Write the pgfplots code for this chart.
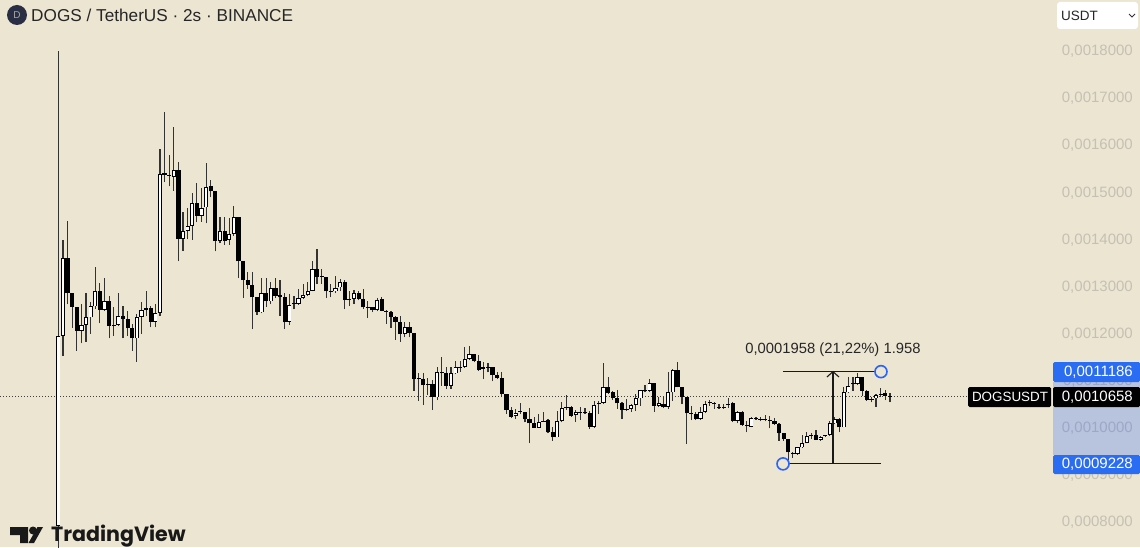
\documentclass[border=0pt]{standalone}
\usepackage{fontspec}
\usepackage{pgfplots}
\usepackage{pgfplotstable}
\pgfplotsset{compat=1.18}
\setmainfont{Liberation Sans}
\newfontfamily\pop{Poppins}
\definecolor{bg}{HTML}{EBE5D2}
\definecolor{tvblue}{HTML}{2962FF}
\definecolor{boxblue}{HTML}{2A6CF2}
\definecolor{ticktxt}{HTML}{C4C1B4}
\definecolor{navy}{HTML}{2A2E45}
\pgfplotstableread{
n o h l c
1 0.0007915 0.0018000 0.0007000 0.0011949
2 0.0011949 0.0013980 0.0011524 0.0013598
3 0.0013598 0.0014390 0.0012621 0.0012855
4 0.0012855 0.0012855 0.0012112 0.0012565
5 0.0012565 0.0012565 0.0011630 0.0012055
6 0.0012055 0.0012621 0.0011786 0.0012182
7 0.0012182 0.0012855 0.0011821 0.0012338
8 0.0012338 0.0012657 0.0011984 0.0012572
9 0.0012572 0.0013414 0.0012515 0.0012904
10 0.0012904 0.0013067 0.0012218 0.0012501
11 0.0012501 0.0013173 0.0012480 0.0012678
12 0.0012692 0.0012798 0.0011892 0.0012154
13 0.0012182 0.0012550 0.0011949 0.0012154
14 0.0012182 0.0012855 0.0012154 0.0012359
15 0.0012359 0.0012579 0.0011892 0.0012303
16 0.0012303 0.0012480 0.0011949 0.0012105
17 0.0012105 0.0012197 0.0011630 0.0011892
18 0.0011892 0.0012409 0.0011397 0.0012352
19 0.0012352 0.0012657 0.0011984 0.0012494
20 0.0012529 0.0012904 0.0012373 0.0012494
21 0.0012529 0.0012586 0.0012126 0.0012246
22 0.0012246 0.0012621 0.0012126 0.0012430
23 0.0012430 0.0015912 0.0012373 0.0015381
24 0.0015395 0.0016690 0.0015204 0.0015353
25 0.0015360 0.0015792 0.0015119 0.0015346
26 0.0015325 0.0016386 0.0015027 0.0015466
27 0.0015466 0.0015629 0.0013527 0.0014001
28 0.0014001 0.0014582 0.0013753 0.0014178
29 0.0014178 0.0014659 0.0014001 0.0014277
30 0.0014277 0.0014971 0.0013987 0.0014758
31 0.0014758 0.0015183 0.0014355 0.0014497
32 0.0014497 0.0015084 0.0014369 0.0014659
33 0.0014673 0.0015622 0.0014334 0.0015112
34 0.0015126 0.0015254 0.0014886 0.0015013
35 0.0015013 0.0015013 0.0013739 0.0013966
36 0.0013966 0.0014475 0.0013909 0.0014178
37 0.0014178 0.0014475 0.0013881 0.0013966
38 0.0013980 0.0014447 0.0013881 0.0014107
39 0.0014107 0.0014709 0.0014072 0.0014461
40 0.0014461 0.0014461 0.0013173 0.0013527
41 0.0013527 0.0013527 0.0012749 0.0013131
42 0.0013131 0.0013293 0.0012940 0.0013032
43 0.0013032 0.0013293 0.0012090 0.0012763
44 0.0012763 0.0012777 0.0012395 0.0012444
45 0.0012444 0.0013173 0.0012423 0.0012848
46 0.0012848 0.0013173 0.0012565 0.0012678
47 0.0012678 0.0013081 0.0012621 0.0012961
48 0.0012961 0.0013173 0.0012749 0.0012798
49 0.0012812 0.0013131 0.0012374 0.0012763
50 0.0012763 0.0012848 0.0012091 0.0012232
51 0.0012246 0.0012834 0.0012183 0.0012600
52 0.0012621 0.0012798 0.0012515 0.0012643
53 0.0012621 0.0012940 0.0012607 0.0012749
54 0.0012749 0.0013046 0.0012728 0.0012820
55 0.0012820 0.0013081 0.0012798 0.0012904
56 0.0012904 0.0013527 0.0012890 0.0013364
57 0.0013364 0.0013789 0.0013046 0.0013202
58 0.0013216 0.0013364 0.0013046 0.0013195
59 0.0013195 0.0013195 0.0012749 0.0012890
60 0.0012904 0.0013046 0.0012763 0.0012890
61 0.0012890 0.0013223 0.0012848 0.0012961
62 0.0012975 0.0013152 0.0012904 0.0013081
63 0.0013096 0.0013131 0.0012515 0.0012706
64 0.0012728 0.0012904 0.0012586 0.0012706
65 0.0012728 0.0012919 0.0012621 0.0012848
66 0.0012855 0.0012904 0.0012700 0.0012728
67 0.0012728 0.0012940 0.0012515 0.0012551
68 0.0012551 0.0012692 0.0012324 0.0012536
69 0.0012551 0.0012551 0.0012444 0.0012494
70 0.0012494 0.0012749 0.0012466 0.0012713
71 0.0012728 0.0012777 0.0012466 0.0012480
72 0.0012480 0.0012494 0.0012197 0.0012459
73 0.0012459 0.0012480 0.0012112 0.0012352
74 0.0012352 0.0012374 0.0011864 0.0012246
75 0.0012246 0.0012374 0.0011822 0.0011984
76 0.0011984 0.0012246 0.0011914 0.0012126
77 0.0012126 0.0012246 0.0011914 0.0011999
78 0.0011999 0.0011999 0.0010781 0.0011029
79 0.0011043 0.0011149 0.0010569 0.0011029
80 0.0011029 0.0011149 0.0010484 0.0010902
81 0.0010923 0.0011050 0.0010696 0.0010909
82 0.0010923 0.0011008 0.0010371 0.0010640
83 0.0010640 0.0011277 0.0010583 0.0011171
84 0.0011185 0.0011489 0.0010888 0.0011149
85 0.0011149 0.0011277 0.0010817 0.0010888
86 0.0010888 0.0011291 0.0010817 0.0011149
87 0.0011149 0.0011404 0.0011135 0.0011277
88 0.0011277 0.0011404 0.0011185 0.0011291
89 0.0011291 0.0011701 0.0011263 0.0011454
90 0.0011454 0.0011730 0.0011432 0.0011560
91 0.0011560 0.0011560 0.0011383 0.0011404
92 0.0011404 0.0011546 0.0011206 0.0011220
93 0.0011277 0.0011383 0.0011029 0.0011248
94 0.0011291 0.0011369 0.0011171 0.0011277
95 0.0011277 0.0011291 0.0010980 0.0011114
96 0.0011114 0.0011185 0.0011029 0.0011050
97 0.0011050 0.0011171 0.0010640 0.0010711
98 0.0010711 0.0010711 0.0010286 0.0010371
99 0.0010371 0.0010442 0.0010194 0.0010230
100 0.0010237 0.0010393 0.0010180 0.0010315
101 0.0010343 0.0010513 0.0010286 0.0010329
102 0.0010336 0.0010336 0.0010109 0.0010173
103 0.0010173 0.0010414 0.0009671 0.0010088
104 0.0010088 0.0010216 0.0009989 0.0009996
105 0.0009996 0.0010286 0.0009989 0.0010117
106 0.0010131 0.0010322 0.0010117 0.0010145
107 0.0010159 0.0010180 0.0009876 0.0009897
108 0.0009897 0.0010017 0.0009720 0.0009791
109 0.0009791 0.0010343 0.0009791 0.0010131
110 0.0010131 0.0010534 0.0010109 0.0010414
111 0.0010428 0.0010690 0.0010371 0.0010442
112 0.0010428 0.0010463 0.0010230 0.0010251
113 0.0010265 0.0010371 0.0010124 0.0010322
114 0.0010322 0.0010442 0.0010166 0.0010308
115 0.0010322 0.0010414 0.0010286 0.0010308
116 0.0010315 0.0010343 0.0009968 0.0010017
117 0.0010017 0.0010569 0.0009989 0.0010477
118 0.0010527 0.0010569 0.0010286 0.0010513
119 0.0010520 0.0011369 0.0010499 0.0010853
120 0.0010867 0.0011065 0.0010711 0.0010732
121 0.0010746 0.0010782 0.0010591 0.0010619
122 0.0010619 0.0010796 0.0010393 0.0010513
123 0.0010513 0.0010534 0.0010180 0.0010371
124 0.0010393 0.0010605 0.0010357 0.0010371
125 0.0010393 0.0010499 0.0010336 0.0010485
126 0.0010485 0.0010711 0.0010357 0.0010619
127 0.0010619 0.0010796 0.0010463 0.0010796
128 0.0010803 0.0010909 0.0010746 0.0010768
129 0.0010782 0.0011029 0.0010746 0.0010937
130 0.0010937 0.0010952 0.0010336 0.0010463
131 0.0010463 0.0010640 0.0010442 0.0010513
132 0.0010499 0.0010640 0.0010414 0.0010428
133 0.0010442 0.0011171 0.0010393 0.0010746
134 0.0010746 0.0011242 0.0010569 0.0011221
135 0.0011221 0.0011383 0.0010853 0.0010853
136 0.0010853 0.0010867 0.0010499 0.0010640
137 0.0010640 0.0010640 0.0009649 0.0010301
138 0.0010301 0.0010463 0.0010159 0.0010286
139 0.0010286 0.0010322 0.0010159 0.0010180
140 0.0010180 0.0010428 0.0010159 0.0010336
141 0.0010336 0.0010569 0.0010308 0.0010499
142 0.0010520 0.0010591 0.0010463 0.0010534
143 0.0010513 0.0010548 0.0010393 0.0010499
144 0.0010442 0.0010499 0.0010393 0.0010414
145 0.0010442 0.0010499 0.0010393 0.0010414
146 0.0010477 0.0010626 0.0010414 0.0010499
147 0.0010513 0.0010534 0.0010109 0.0010145
148 0.0010145 0.0010357 0.0010088 0.0010322
149 0.0010321 0.0010357 0.0010038 0.0010052
150 0.0010052 0.0010144 0.0009897 0.0010031
151 0.0010017 0.0010215 0.0010003 0.0010201
152 0.0010201 0.0010229 0.0010158 0.0010187
153 0.0010180 0.0010229 0.0010130 0.0010165
154 0.0010180 0.0010265 0.0010130 0.0010158
155 0.0010165 0.0010236 0.0009981 0.0010144
156 0.0010144 0.0010194 0.0010052 0.0010073
157 0.0010073 0.0010087 0.0009720 0.0009882
158 0.0009882 0.0009882 0.0009720 0.0009755
159 0.0009755 0.0009755 0.0009316 0.0009472
160 0.0009458 0.0009472 0.0009352 0.0009444
161 0.0009437 0.0009592 0.0009422 0.0009578
162 0.0009578 0.0009847 0.0009564 0.0009670
163 0.0009670 0.0009897 0.0009663 0.0009812
164 0.0009819 0.0009882 0.0009755 0.0009840
165 0.0009847 0.0009946 0.0009734 0.0009741
166 0.0009741 0.0009826 0.0009720 0.0009805
167 0.0009826 0.0009847 0.0009805 0.0009840
168 0.0009840 0.0010144 0.0009826 0.0010088
169 0.0010088 0.0010229 0.0010073 0.0010180
170 0.0010180 0.0010201 0.0009897 0.0010003
171 0.0010003 0.0010852 0.0010003 0.0010746
172 0.0010746 0.0011064 0.0010725 0.0010887
173 0.0010944 0.0011078 0.0010781 0.0010923
174 0.0010923 0.0011149 0.0010909 0.0011078
175 0.0011078 0.0011078 0.0010675 0.0010781
176 0.0010781 0.0010795 0.0010569 0.0010583
177 0.0010604 0.0010640 0.0010533 0.0010583
178 0.0010618 0.0010710 0.0010441 0.0010696
179 0.0010696 0.0010831 0.0010640 0.0010710
180 0.0010732 0.0010795 0.0010583 0.0010675
181 0.0010675 0.0010725 0.0010533 0.0010658
}\candles
\begin{document}
\begin{tikzpicture}[x=1pt,y=1pt]
\path[use as bounding box] (0,0) rectangle (1140,547);
\begin{axis}[
  at={(0,0)}, anchor=south west,
  scale only axis, width=1140pt, height=547pt,
  xmin=-11.62, xmax=235.13, ymin=0.00074630, ymax=0.00190766,
  xtick=\empty,
  ytick={0.0008,0.0009,0.0010,0.0011,0.0012,0.0013,0.0014,0.0015,0.0016,0.0017,0.0018},
  scaled y ticks=false,
  yticklabel pos=right,
  major tick length=0pt,
  tick style={draw=none},
  axis line style={draw=none},
  axis background/.style={fill=bg},
  yticklabel style={
    anchor=east, xshift=-7pt, yshift=-0.8pt, inner sep=0pt,
    font=\fontsize{15}{16}\selectfont, text=ticktxt,
    /pgf/number format/.cd, fixed, fixed zerofill, precision=7, use comma, assume math mode=true},
]
% last-price dotted line
\addplot[black!75, line width=0.9pt, dash pattern=on 1pt off 2pt, forget plot]
  coordinates {(-11.62,0.0010658) (197.9,0.0010658)};
% wicks
\addplot[draw=none, no marks, forget plot,
  error bars/.cd, y dir=plus, y explicit, error mark=none,
  error bar style={solid, line width=1.15pt, draw=black!80}]
  table[x=n, y=l, y error plus expr=\thisrow{h}-\thisrow{l}] {\candles};
% bodies (black)
\addplot[draw=none, no marks, forget plot,
  error bars/.cd, y dir=plus, y explicit, error mark=none,
  error bar style={solid, line width=4.2pt, draw=black}]
  table[x=n, y expr={min(\thisrow{o},\thisrow{c})}, y error plus expr={abs(\thisrow{c}-\thisrow{o})}] {\candles};
% hollow interior of rising candles
\addplot[draw=none, no marks, forget plot,
  error bars/.cd, y dir=plus, y explicit, error mark=none,
  error bar style={solid, line width=2.4pt, draw=white!92!bg}]
  table[x=n, y expr={\thisrow{o}+0.0000018}, y error plus expr={max(0,\thisrow{c}-\thisrow{o}-0.0000036)}] {\candles};
% measuring tool
\addplot[black!90, line width=1.2pt, forget plot] coordinates {(157.86,0.0011186) (179.06,0.0011186)};
\addplot[black!90, line width=1.2pt, forget plot] coordinates {(157.86,0.0009228) (179.06,0.0009228)};
\addplot[black!90, line width=1.1pt, forget plot] coordinates {(168.67,0.0009228) (168.67,0.0011186)};
\addplot[black!90, line width=1.1pt, forget plot] coordinates {(167.37,0.0011073) (168.67,0.0011186) (169.97,0.0011073)};
\coordinate (cA) at (axis cs:157.86,0.0009228);
\coordinate (cB) at (axis cs:179.06,0.0011186);
\coordinate (lA) at (axis cs:168.67,0.0011650);
\end{axis}
% price scale band and labels
\fill[tvblue, opacity=.26] (1053,165) rectangle (1140,92);
\fill[boxblue, rounded corners=1.5pt] (1053,185) rectangle (1140,165);
\fill[boxblue, rounded corners=1.5pt] (1053,92) rectangle (1140,73);
\fill[black, rounded corners=1.5pt] (1053,160) rectangle (1140,140);
\fill[black, rounded corners=1.5pt] (968,160) rectangle (1051,140);
\begin{scope}[every node/.style={text=white, inner sep=0pt, font=\fontsize{15}{16}\selectfont}]
\node[anchor=east] at (1133,175) {0,0011186};
\node[anchor=east] at (1133,150) {0,0010658};
\node[anchor=east] at (1133,82.5) {0,0009228};
\node[anchor=center, font=\fontsize{13.4}{16}\selectfont] at (1010,150) {DOGSUSDT};
\end{scope}
% measuring tool handles and text
\draw[tvblue, line width=1.6pt, fill=bg] (cA) circle (6);
\draw[tvblue, line width=1.6pt, fill=bg] (cB) circle (6);
\node[inner sep=0pt, text=black!85, font=\fontsize{14.8}{16}\selectfont] at (lA) {0,0001958 (21,22\%) 1.958};
% header
\fill[navy] (17,532) circle (10);
\node[inner sep=0pt, text=black!35!white, font=\fontsize{10}{12}\selectfont] at (17,532) {D};
\node[anchor=west, inner sep=0pt, text=black!85, font=\fontsize{17.2}{20}\selectfont] at (31,532) {DOGS / TetherUS · 2s · BINANCE};
% currency box
\fill[white, rounded corners=3pt] (1057,545) rectangle (1138,518);
\node[anchor=west, inner sep=0pt, text=black!85, font=\fontsize{13.5}{16}\selectfont] at (1061,531.5) {USDT};
\draw[black!80, line width=1pt] (1129,533) -- (1132,530) -- (1135,533);
% logo
\fill[black!90] (10,20) -- (28,20) -- (28,4) -- (20,4) -- (20,12) -- (10,12) -- cycle;
\fill[black!90] (33,16.5) circle (4);
\fill[black!90] (37.5,20) -- (43,20) -- (34,4) -- (28.5,4) -- cycle;
\node[anchor=base west, inner sep=0pt, text=black!90, font=\pop\fontsize{20.6}{24}\selectfont\bfseries] at (51,5.5) {TradingView};
\end{tikzpicture}
\end{document}
